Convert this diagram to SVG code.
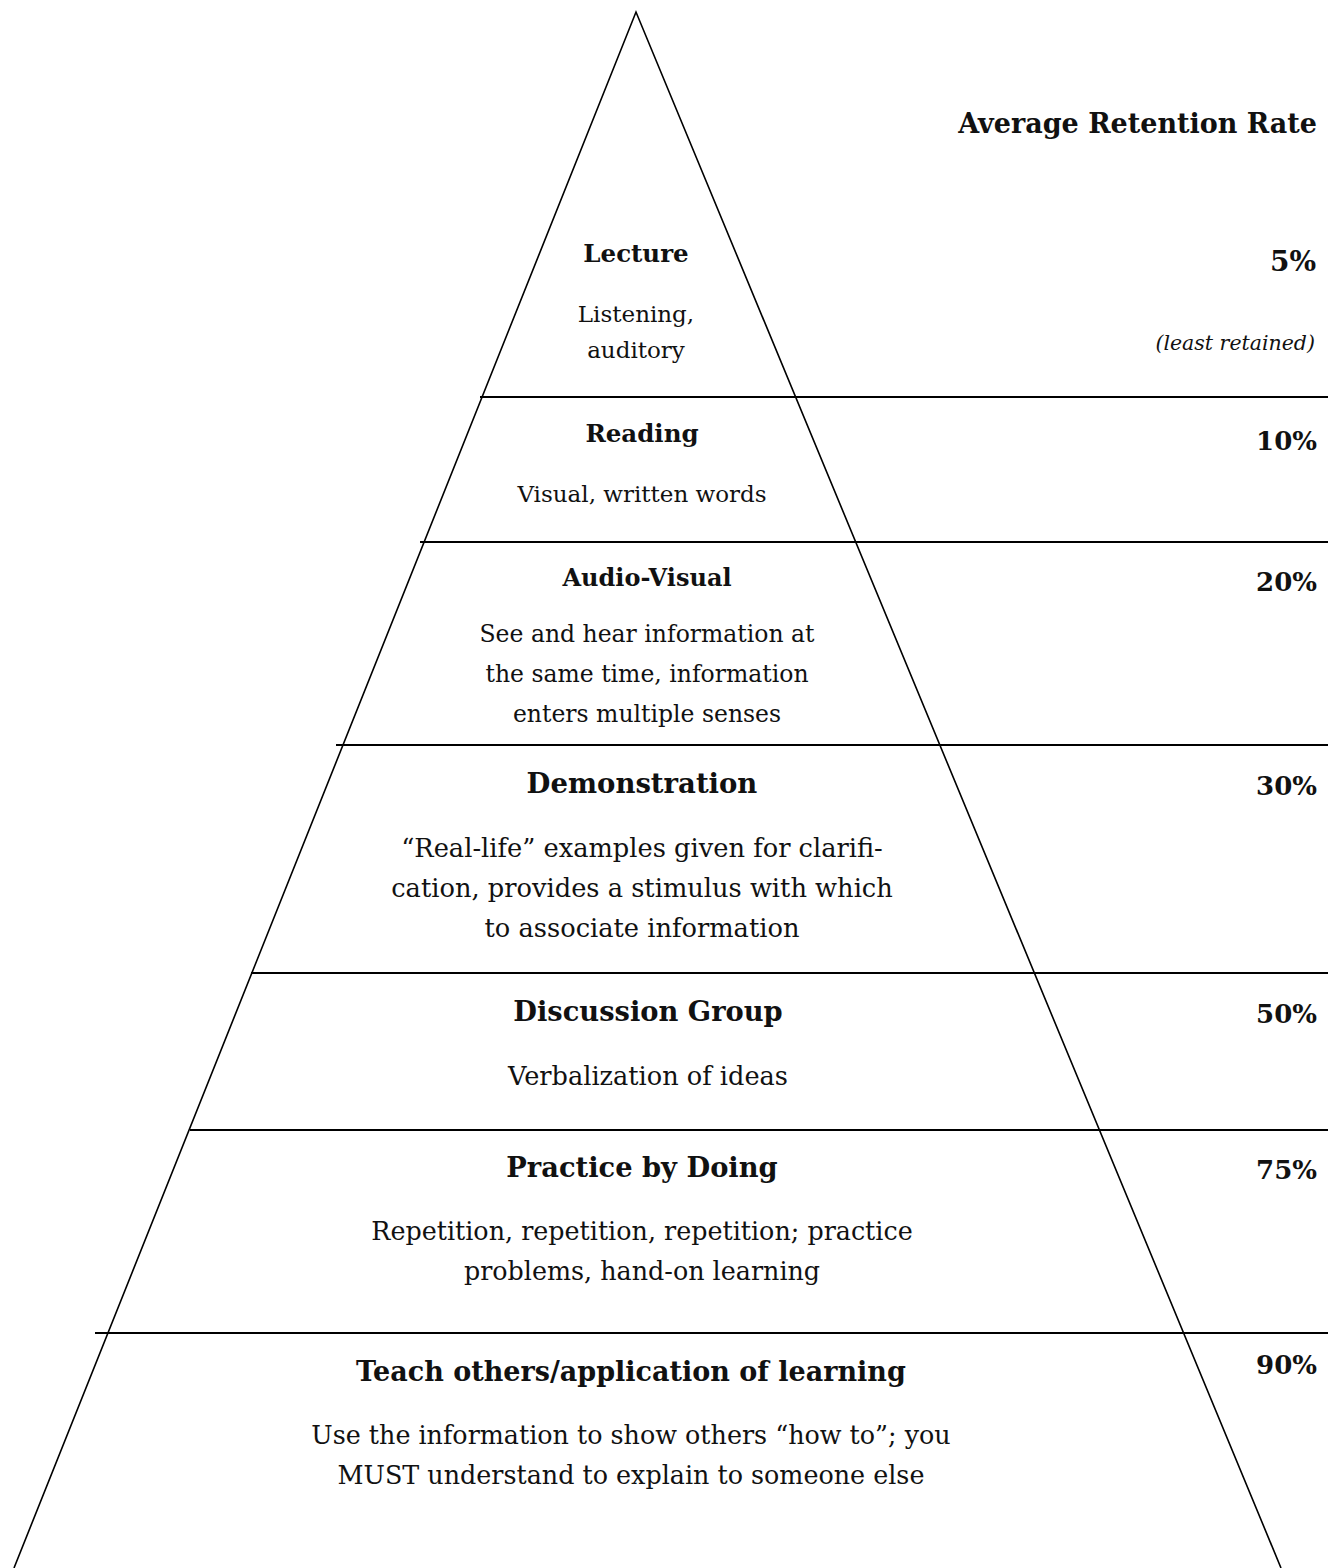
<svg xmlns="http://www.w3.org/2000/svg" width="1328" height="1568" viewBox="0 0 1328 1568">
<style>
text{font-family:"DejaVu Serif","Liberation Serif",serif;fill:#111;}
.h{font-weight:bold;text-anchor:middle;}
.b{text-anchor:middle;}
.p{font-weight:bold;text-anchor:end;}
.edge{stroke:#000;stroke-width:1.6;fill:none;}
.sep{stroke:#000;stroke-width:2.2;}
</style>
<rect width="1328" height="1568" fill="#fff"/>
<g id="connectors">
<path class="edge" d="M14,1568 L636,12 L1281,1568"/>
<line class="sep" x1="480" y1="397" x2="1328" y2="397"/>
<line class="sep" x1="420" y1="542" x2="1328" y2="542"/>
<line class="sep" x1="336" y1="745" x2="1328" y2="745"/>
<line class="sep" x1="251" y1="973" x2="1328" y2="973"/>
<line class="sep" x1="190" y1="1130" x2="1328" y2="1130"/>
<line class="sep" x1="95" y1="1333" x2="1328" y2="1333"/>
</g>
<g id="header">
<text class="p" x="1317" y="133" font-size="27">Average Retention Rate</text>
</g>
<g id="lecture">
<text class="h" x="636" y="262" font-size="24.5">Lecture</text>
<text class="b" x="636" y="322" font-size="23">Listening,</text>
<text class="b" x="636" y="358" font-size="23">auditory</text>
<text class="p" x="1316" y="271" font-size="28">5%</text>
<text x="1315" y="350" font-size="20.5" font-style="italic" text-anchor="end">(least retained)</text>
</g>
<g id="reading">
<text class="h" x="642" y="442" font-size="24.5">Reading</text>
<text class="b" x="642" y="502" font-size="23">Visual, written words</text>
<text class="p" x="1317" y="450" font-size="26">10%</text>
</g>
<g id="audiovisual">
<text class="h" x="647" y="586" font-size="24">Audio-Visual</text>
<text class="b" x="647" y="642" font-size="23.5">See and hear information at</text>
<text class="b" x="647" y="682" font-size="23.5">the same time, information</text>
<text class="b" x="647" y="722" font-size="23.5">enters multiple senses</text>
<text class="p" x="1317" y="591" font-size="26">20%</text>
</g>
<g id="demonstration">
<text class="h" x="642" y="793" font-size="27.5">Demonstration</text>
<text class="b" x="642" y="857" font-size="25.7">“Real-life” examples given for clarifi-</text>
<text class="b" x="642" y="897" font-size="25.7">cation, provides a stimulus with which</text>
<text class="b" x="642" y="937" font-size="25.7">to associate information</text>
<text class="p" x="1317" y="795" font-size="26">30%</text>
</g>
<g id="discussion">
<text class="h" x="648" y="1021" font-size="27.3">Discussion Group</text>
<text class="b" x="648" y="1085" font-size="25.6">Verbalization of ideas</text>
<text class="p" x="1317" y="1023" font-size="26">50%</text>
</g>
<g id="practice">
<text class="h" x="642" y="1177" font-size="27.3">Practice by Doing</text>
<text class="b" x="642" y="1240" font-size="25.4">Repetition, repetition, repetition; practice</text>
<text class="b" x="642" y="1280" font-size="25.4">problems, hand-on learning</text>
<text class="p" x="1317" y="1179" font-size="26">75%</text>
</g>
<g id="teach">
<text class="h" x="631" y="1381" font-size="27">Teach others/application of learning</text>
<text class="b" x="631" y="1444" font-size="25.4">Use the information to show others “how to”; you</text>
<text class="b" x="631" y="1484" font-size="25.4">MUST understand to explain to someone else</text>
<text class="p" x="1317" y="1374" font-size="26">90%</text>
</g>
</svg>
